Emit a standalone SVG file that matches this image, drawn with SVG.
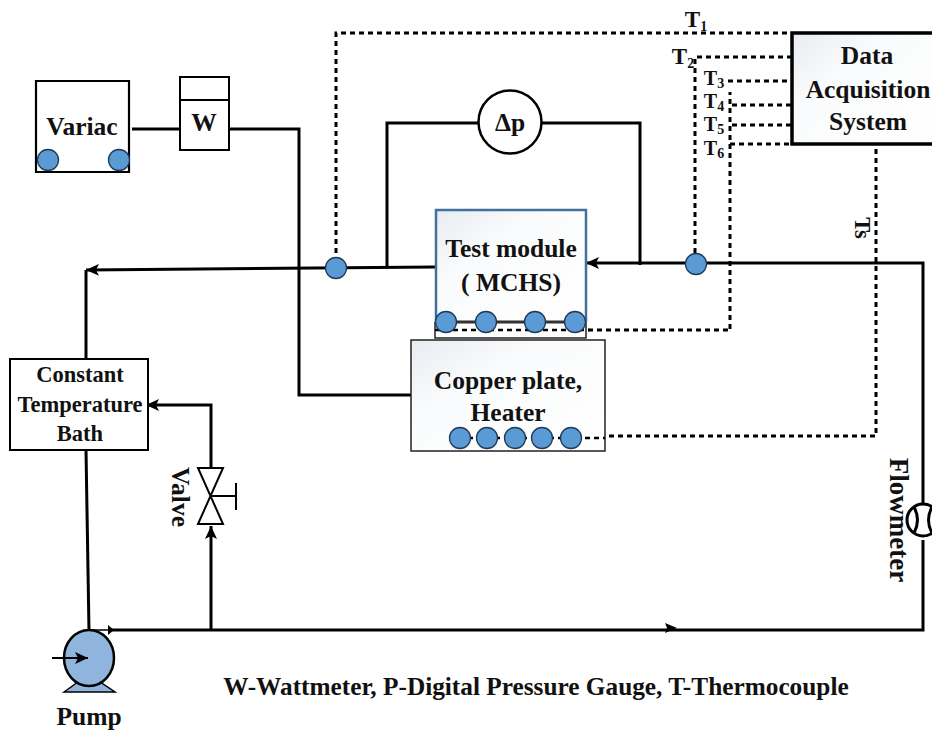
<svg xmlns="http://www.w3.org/2000/svg" width="932" height="731" viewBox="0 0 932 731">
<style>
text{font-family:"Liberation Serif","Times New Roman",serif;font-weight:bold;fill:#111;text-anchor:middle}
.l{font-size:25.5px}
.b{font-size:22.5px}
.t{font-size:23px}
.n{font-size:20px}
.s{font-size:14px}
.w{fill:none;stroke:#000;stroke-width:3}
.d{fill:none;stroke:#000;stroke-width:3;stroke-dasharray:5 4}
.box{fill:#fff;stroke:#000;stroke-width:2}
.dot{fill:#5b9bd5;stroke:#1f3a5a;stroke-width:1.3}
</style>
<defs>
<linearGradient id="g" x1="0" y1="0" x2="1" y2="1"><stop offset="0" stop-color="#e8ecf1"/><stop offset=".35" stop-color="#fafbfc"/><stop offset="1" stop-color="#fff"/></linearGradient>
<marker id="a" markerUnits="userSpaceOnUse" markerWidth="14" markerHeight="12" refX="13" refY="6" orient="auto"><path d="M0 0L13 6L0 12L3 6Z" fill="#000"/></marker>
</defs>
<g id="connectors">
<path class="w" d="M132 129H180M229 129H299V395H411"/>
<path class="w" d="M387 267V123H479M541 123H640V265"/>
<path class="w" d="M435 267L86 270" marker-end="url(#a)"/>
<path class="w" d="M86 270V359"/>
<path class="w" d="M923 505V263H586" marker-end="url(#a)"/>
<path class="w" d="M923 540V630L112 630"/>
<path d="M677 628L665 623L667 628L665 633Z" fill="#000"/>
<path class="w" d="M86 450L89 631"/>
<path class="w" d="M211 630V526" marker-end="url(#a)"/>
<path class="w" d="M211 468V405H146" marker-end="url(#a)"/>
<path class="d" d="M336 262V33H791"/>
<path class="d" d="M695 262V57H791"/>
<path class="d" d="M728 81H791M730 329V92M732 105H791M732 125H791M730 144H791"/>
<path class="d" d="M435 330H730"/>
<path class="d" d="M876 140V436H605"/>
</g>
<g id="variac">
<path class="box" d="M36 81H129V172H36Z" style="stroke-width:2.2"/>
<text class="l" x="82" y="135">Variac</text>
<circle class="dot" cx="48" cy="160" r="10.5"/><circle class="dot" cx="119" cy="160" r="10.5"/>
</g>
<g id="wattmeter">
<rect class="box" x="180" y="77" width="49" height="73"/>
<path d="M180 100H229" stroke="#000" stroke-width="2"/>
<text class="l" x="204" y="131">W</text>
</g>
<g id="dp">
<circle cx="510" cy="122" r="31.5" fill="#fff" stroke="#000" stroke-width="2.5"/>
<text class="l" x="510" y="131">Δp</text>
</g>
<g id="daq">
<rect x="792" y="33" width="145" height="111" fill="url(#g)" stroke="#000" stroke-width="3.5"/>
<text class="l" x="867" y="64">Data</text>
<text class="l" x="868" y="98">Acquisition</text>
<text class="l" x="868" y="130">System</text>
</g>
<g id="labels">
<text class="t" x="696" y="27">T<tspan class="s" dy="4">1</tspan></text>
<text class="t" x="683" y="64">T<tspan class="s" dy="4">2</tspan></text>
<text class="n" x="714" y="85">T<tspan class="s" dy="3">3</tspan></text>
<text class="n" x="714" y="108">T<tspan class="s" dy="3">4</tspan></text>
<text class="n" x="714" y="131">T<tspan class="s" dy="3">5</tspan></text>
<text class="n" x="714" y="155">T<tspan class="s" dy="3">6</tspan></text>
<text class="b" transform="translate(855 228) rotate(90)">Ts</text>
</g>
<g id="test-module">
<path d="M435 322V338H586V322" fill="#fff" stroke="#222" stroke-width="1.5"/>
<path d="M436 322V210H586V322" fill="url(#g)" stroke="#41719c" stroke-width="2.5"/>
<text class="l" x="511" y="257">Test module</text>
<text class="l" x="511" y="291">( MCHS)</text>
<path d="M446 322H575" stroke="#333" stroke-width="3"/>
<path class="d" d="M435 330H590" style="stroke-width:2.5"/>
<circle class="dot" cx="446" cy="322" r="10.5"/><circle class="dot" cx="486" cy="322" r="10.5"/><circle class="dot" cx="535" cy="322" r="10.5"/><circle class="dot" cx="575" cy="322" r="10.5"/>
</g>
<g id="copper-heater">
<rect x="411" y="340" width="194" height="111" fill="url(#g)" stroke="#222" stroke-width="1.5"/>
<text class="l" x="508" y="389">Copper plate,</text>
<text class="l" x="508" y="421">Heater</text>
<path d="M450 438H605" stroke="#000" stroke-width="2.5" stroke-dasharray="5 4"/>
<circle class="dot" cx="460" cy="438" r="10.5"/><circle class="dot" cx="487" cy="438" r="10.5"/><circle class="dot" cx="515" cy="438" r="10.5"/><circle class="dot" cx="542" cy="438" r="10.5"/><circle class="dot" cx="571" cy="438" r="10.5"/>
</g>
<g id="sensor-t1"><circle class="dot" cx="336" cy="268" r="10.5"/></g>
<g id="sensor-t2"><circle class="dot" cx="696" cy="264" r="10.5"/></g>
<g id="bath">
<rect class="box" x="10" y="359" width="138" height="91"/>
<text class="b" x="80" y="382">Constant</text>
<text class="b" x="80" y="412">Temperature</text>
<text class="b" x="80" y="441">Bath</text>
</g>
<g id="valve">
<path d="M198 468H223L198 524H223Z" fill="#fff" stroke="#000" stroke-width="2"/>
<path d="M211 496H236M236 483V510" fill="none" stroke="#000" stroke-width="2"/>
<text class="l" transform="translate(172 497) rotate(90)">Valve</text>
</g>
<g id="flowmeter">
<circle cx="923" cy="520" r="16" fill="#fff" stroke="#000" stroke-width="3"/>
<path d="M914 507Q921 520 914 533M932 507Q925 520 932 533" fill="none" stroke="#000" stroke-width="3"/>
<text transform="translate(890 520) rotate(90)" style="font-size:27px">Flowmeter</text>
</g>
<g id="pump">
<path d="M64 692L78 682H100L115 692Z" fill="#8fb4de" stroke="#000" stroke-width="1.5"/>
<ellipse cx="89" cy="658" rx="25" ry="28" fill="#8fb4de" stroke="#000" stroke-width="2.5"/>
<path d="M52 658H88" stroke="#000" stroke-width="2" marker-end="url(#a)"/>
<path d="M89 630H112" stroke="#000" stroke-width="1.5"/>
<path d="M114 630L108 625V635Z" fill="#000"/>
<text class="l" x="89" y="725">Pump</text>
</g>
<text x="536" y="695" style="font-size:25.3px">W-Wattmeter, P-Digital Pressure Gauge, T-Thermocouple</text>
</svg>
